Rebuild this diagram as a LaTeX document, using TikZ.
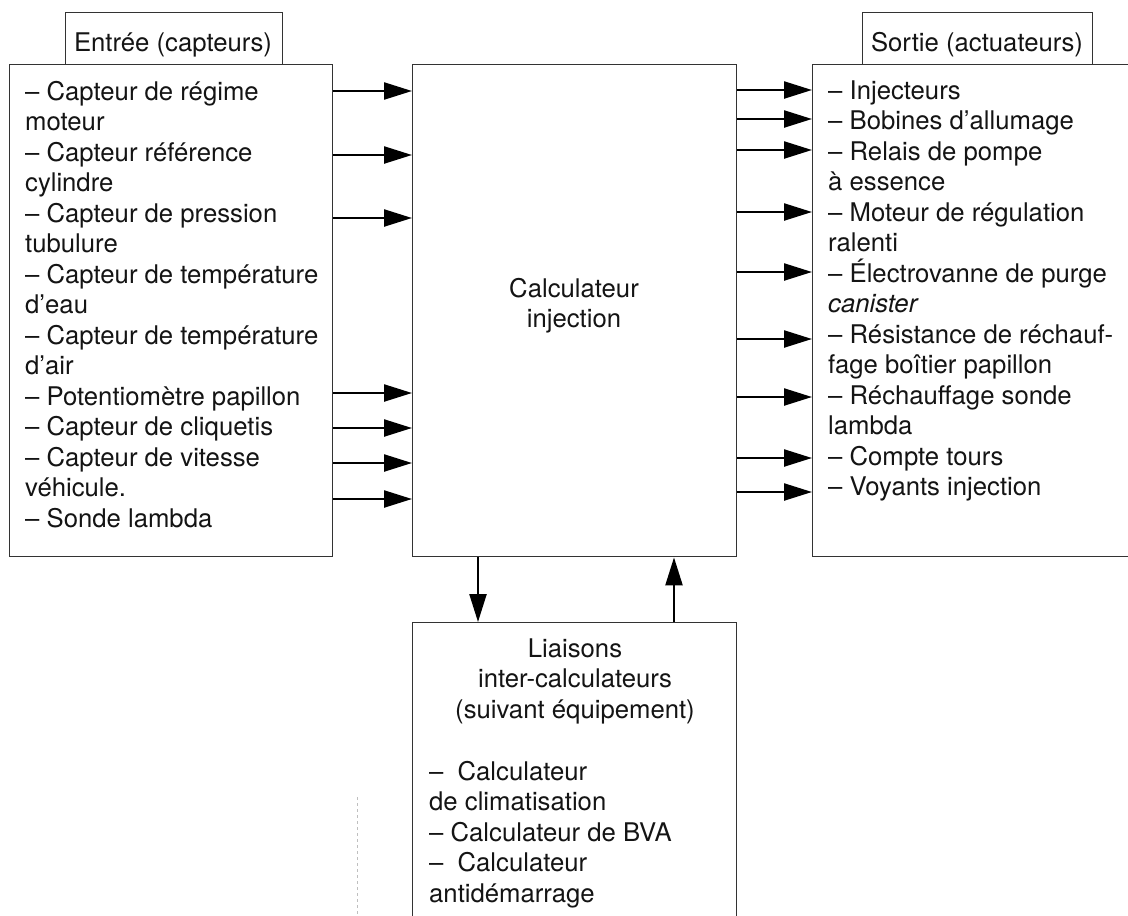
\documentclass[tikz,border=0pt]{standalone}
\usepackage{fontspec}
\setmainfont{TeX Gyre Heros}
\usetikzlibrary{arrows.meta,calc}
\begin{document}
\begin{tikzpicture}[x=1pt,y=-1pt,
  box/.style={draw=black!80, line width=1.4pt, fill=white, rectangle, inner sep=0pt, anchor=north west},
  txt/.style={inner sep=0pt, text=black!92, font=\fontsize{25.7}{30.5}\selectfont},
  item/.style={txt, anchor=base west},
  ctext/.style={txt, anchor=base},
  arr/.style={line width=2.3pt, -{Triangle[length=28pt,width=17pt]}},
]
\clip (0,0) rectangle (1128,916);
\fill[white] (0,0) rectangle (1128,916);

% tabs
\node[box, minimum width=217pt, minimum height=52pt] (TL) at (65,12) {};
\node[ctext] (TLt) at (173,51) {Entrée (capteurs)};
\node[box, minimum width=230pt, minimum height=52pt] (TR) at (862,12) {};
\node[ctext] (TRt) at (977,51) {Sortie (actuateurs)};

% main boxes
\node[box, minimum width=323pt, minimum height=492pt] (L) at (9,64) {};
\node[box, minimum width=324pt, minimum height=492pt] (C) at (412,64) {};
\node[box, minimum width=330pt, minimum height=492pt] (R) at (812,64) {};
\node[box, minimum width=324pt, minimum height=330pt] (B) at (412,622) {};

% left list
\foreach \t [count=\i] in {– Capteur de régime, moteur, – Capteur référence, cylindre,
  – Capteur de pression, tubulure, – Capteur de température, d’eau,
  – Capteur de température, d’air, – Potentiomètre papillon, – Capteur de cliquetis,
  – Capteur de vitesse, véhicule., – Sonde lambda}
  \node[item] (li\i) at (25,{100+(\i-1)*30.5}) {\t};

% right list
\foreach \t [count=\i] in {– Injecteurs, – Bobines d’allumage, – Relais de pompe, à essence,
  – Moteur de régulation, ralenti, – Électrovanne de purge, {\itshape canister},
  – Résistance de réchauf-, fage boîtier papillon, – Réchauffage sonde, lambda,
  – Compte tours, – Voyants injection}
  \node[item] (ri\i) at (828,{99+(\i-1)*30.5}) {\t};

% centre
\node[ctext] (c1) at (574,297) {Calculateur};
\node[ctext] (c2) at (574,327.5) {injection};

% bottom box
\node[ctext] (b1) at (575,657) {Liaisons};
\node[ctext] (b2) at (575,687.5) {inter-calculateurs};
\node[ctext] (b3) at (575,718) {(suivant équipement)};
\node[item] (b4) at (429,780) {–\hspace{7pt} Calculateur};
\node[item] (b5) at (429,810.5) {de climatisation};
\node[item] (b6) at (429,841) {– Calculateur de BVA};
\node[item] (b7) at (429,871.5) {–\hspace{7pt} Calculateur};
\node[item] (b8) at (429,902) {antidémarrage};

% arrows left -> centre
\foreach \d in {27,91,154,329,364,399,435}
  \draw[arr] ($(L.north east)+(0,\d)$) -- ($(C.north west)+(0,\d)$);

% arrows centre -> right
\foreach \d in {26,55,86,148,208,275,333,394,428}
  \draw[arr] ($(C.north east)+(0,\d)$) -- ($(R.north west)+(0,\d)$);

% vertical arrows
\draw[arr] ($(C.south west)+(66,0)$) -- ($(B.north west)+(66,0)$);
\draw[arr] ($(B.north west)+(262,0)$) -- ($(C.south west)+(262,0)$);

% faint scan mark
\coordinate (m1) at (357,797);
\coordinate (m2) at (357,916);
\draw[black!25, dashed, line width=0.8pt] (m1) -- (m2);
\end{tikzpicture}
\end{document}
